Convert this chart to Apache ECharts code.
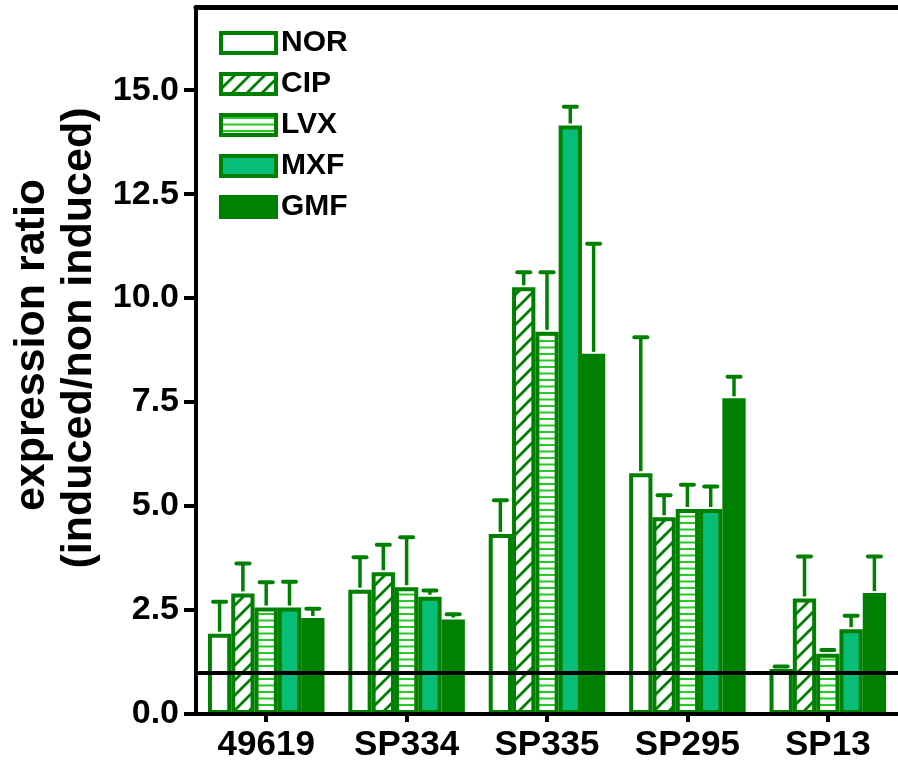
<!DOCTYPE html>
<html>
<head>
<meta charset="utf-8">
<script src="https://cdn.jsdelivr.net/npm/echarts@6/dist/echarts.min.js"></script>
<style>
html,body{margin:0;padding:0;background:#fff;}
#chart{width:898px;height:761px;}
</style>
</head>
<body>
<div id="chart"></div>
<script>
// ---- data ----
const categories = ['49619', 'SP334', 'SP335', 'SP295', 'SP13'];
const seriesNames = ['NOR', 'CIP', 'LVX', 'MXF', 'GMF'];
const NOR = [1.93, 2.99, 4.33, 5.79, 1.08];
const NOR_err = [0.77, 0.78, 0.81, 3.27, 0.06];
const CIP = [2.90, 3.41, 10.26, 4.73, 2.78];
const CIP_err = [0.72, 0.66, 0.36, 0.53, 1.01];
const LVX = [2.56, 3.05, 9.19, 4.93, 1.45];
const LVX_err = [0.61, 1.20, 1.43, 0.58, 0.09];
const MXF = [2.56, 2.82, 14.15, 4.93, 2.04];
const MXF_err = [0.62, 0.15, 0.45, 0.54, 0.32];
const GMF = [2.31, 2.27, 8.66, 7.59, 2.91];
const GMF_err = [0.22, 0.13, 2.65, 0.52, 0.88];
const yTicks = [0, 2.5, 5, 7.5, 10, 12.5, 15];
const refLine = 1;

const means = [NOR, CIP, LVX, MXF, GMF];
const errs = [NOR_err, CIP_err, LVX_err, MXF_err, GMF_err];

// ---- styles ----
const DARK = '#008000';
const TEAL = '#07bd78';
const LIGHT = '#22cc22';
const FONT = '"Liberation Sans", Arial, Helvetica, sans-serif';
const CAT_GAP = 0.17;

function diagPattern() {
  const s = 15, c = document.createElement('canvas');
  c.width = s; c.height = s;
  const g = c.getContext('2d');
  g.fillStyle = '#fff'; g.fillRect(0, 0, s, s);
  g.strokeStyle = DARK; g.lineWidth = 2.8;
  g.beginPath();
  g.moveTo(-2, s + 2); g.lineTo(s + 2, -2);
  g.moveTo(-2, 2); g.lineTo(2, -2);
  g.moveTo(s - 2, s + 2); g.lineTo(s + 2, s - 2);
  g.stroke();
  return c;
}
function hLinePattern() {
  const w = 8, h = 13, c = document.createElement('canvas');
  c.width = w; c.height = h;
  const g = c.getContext('2d');
  g.fillStyle = '#fff'; g.fillRect(0, 0, w, h);
  g.fillStyle = LIGHT;
  g.fillRect(0, 2, w, 2);
  g.fillRect(0, 8.5, w, 2);
  return c;
}

const fills = [
  '#ffffff',
  { image: diagPattern(), repeat: 'repeat' },
  { image: hLinePattern(), repeat: 'repeat' },
  TEAL,
  DARK
];

const barSeries = seriesNames.map((name, i) => ({
  name: name,
  type: 'bar',
  data: means[i],
  barGap: '0%',
  barCategoryGap: (CAT_GAP * 100) + '%',
  itemStyle: { color: fills[i], borderColor: DARK, borderWidth: 4 },
  emphasis: { disabled: true },
  z: 2
}));

const errData = [];
seriesNames.forEach((n, s) => {
  categories.forEach((c, k) => {
    errData.push([k, s, means[s][k], means[s][k] + errs[s][k]]);
  });
});

const errSeries = {
  type: 'custom',
  name: 'err',
  data: errData,
  encode: { x: 0, y: 3 },
  z: 4,
  renderItem: function (params, api) {
    const cat = api.value(0), idx = api.value(1);
    const m = api.coord([cat, api.value(2)]);
    const t = api.coord([cat, api.value(3)]);
    const band = api.size([1, 0])[0];
    const bw = band * (1 - CAT_GAP) / 5;
    const x = m[0] + (idx - 2) * bw;
    return {
      type: 'group',
      children: [
        { type: 'line', shape: { x1: x, y1: m[1] - 2, x2: x, y2: t[1] }, style: { stroke: DARK, lineWidth: 3.5 } },
        { type: 'line', shape: { x1: x - 6.5, y1: t[1], x2: x + 6.5, y2: t[1] }, style: { stroke: DARK, lineWidth: 4, lineCap: 'round' } }
      ]
    };
  },
  markLine: {
    silent: true,
    symbol: 'none',
    label: { show: false },
    lineStyle: { color: '#000', width: 4, type: 'solid' },
    data: [{ yAxis: refLine }]
  }
};

const chart = echarts.init(document.getElementById('chart'), null, { renderer: 'canvas' });
chart.setOption({
  animation: false,
  backgroundColor: '#fff',
  grid: { left: 196, right: 0, top: 7, bottom: 47, containLabel: false, outerBoundsMode: 'none' },
  legend: {
    orient: 'vertical',
    left: 214, top: 23,
    itemWidth: 55, itemHeight: 20, itemGap: 11,
    icon: 'rect',
    selectedMode: false,
    itemStyle: { borderWidth: 4, borderColor: DARK },
    textStyle: { fontSize: 30, fontWeight: 'bold', color: '#000', fontFamily: FONT },
    data: seriesNames
  },
  xAxis: [{
    type: 'category',
    data: categories,
    z: 10,
    axisLine: { lineStyle: { color: '#000', width: 4 } },
    axisTick: { show: true, alignWithLabel: true, length: 8, lineStyle: { color: '#000', width: 4 } },
    axisLabel: { fontSize: 35, fontWeight: 'bold', color: '#000', fontFamily: FONT, margin: 14, interval: 0 },
    splitLine: { show: false }
  }, {
    type: 'category',
    data: categories,
    position: 'top',
    z: 10,
    axisLine: { lineStyle: { color: '#000', width: 5 } },
    axisTick: { show: false },
    axisLabel: { show: false },
    splitLine: { show: false }
  }],
  yAxis: {
    type: 'value',
    min: 0, max: 17,
    z: 10,
    axisLine: { show: true, lineStyle: { color: '#000', width: 4 } },
    axisTick: { show: true, length: 12, customValues: yTicks, lineStyle: { color: '#000', width: 4 } },
    axisLabel: {
      customValues: yTicks,
      fontSize: 34, fontWeight: 'bold', color: '#000', fontFamily: FONT, margin: 17,
      formatter: v => v.toFixed(1)
    },
    splitLine: { show: false }
  },
  graphic: [
    { type: 'text', x: 32, y: 345, rotation: Math.PI / 2,
      style: { text: 'expression ratio', font: 'bold 43px ' + FONT, fill: '#000', align: 'center', verticalAlign: 'middle' } },
    { type: 'text', x: 79, y: 338, rotation: Math.PI / 2,
      style: { text: '(induced/non induced)', font: 'bold 43px ' + FONT, fill: '#000', align: 'center', verticalAlign: 'middle' } }
  ],
  series: barSeries.concat([errSeries])
});
</script>
</body>
</html>
